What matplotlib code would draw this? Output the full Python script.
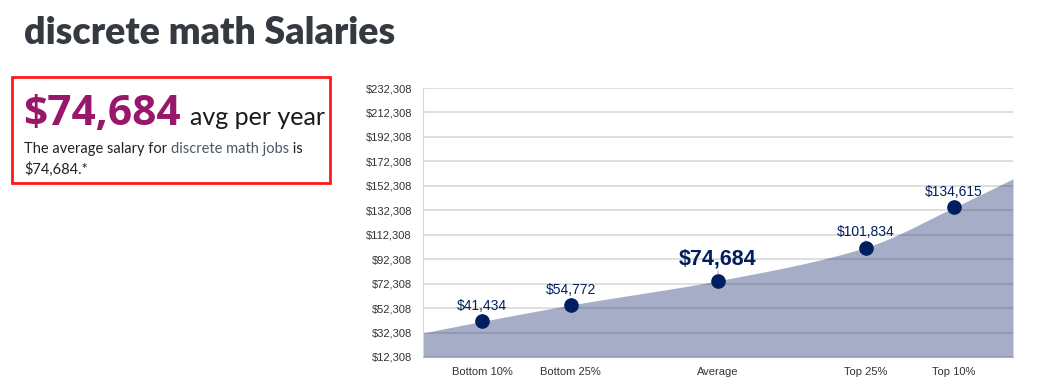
import matplotlib
matplotlib.use("Agg")
import matplotlib.pyplot as plt
import numpy as np
from matplotlib.patches import Rectangle

# =========================
# DATA
# =========================
labels = ["Bottom 10%", "Bottom 25%", "Average", "Top 25%", "Top 10%"]
percentiles = [10, 25, 50, 75, 90]
salaries = [41434, 54772, 74684, 101834, 134615]
# area edges (x = 0 and x = 100)
edge_values = [32000, 158000]
yticks = list(range(12308, 232309, 20000))

avg_salary = 74684

NAVY = "#001f5f"
FILL = "#001761"
GRID = "#d9d9d9"
TEXT = "#333333"
LEFT_FONT = "Lato"

W, H = 1051, 392


def px(x, y):
    return x / W, 1 - y / H


def monotone_curve(x, y, n=400):
    # Fritsch-Carlson monotone cubic, used only to draw the smooth edge
    x = np.asarray(x, float)
    y = np.asarray(y, float)
    d = np.diff(y) / np.diff(x)
    m = np.zeros_like(y)
    m[0], m[-1] = d[0], d[-1]
    for i in range(1, len(x) - 1):
        if d[i - 1] * d[i] <= 0:
            m[i] = 0
        else:
            w1 = 2 * (x[i + 1] - x[i]) + (x[i] - x[i - 1])
            w2 = (x[i + 1] - x[i]) + 2 * (x[i] - x[i - 1])
            m[i] = (w1 + w2) / (w1 / d[i - 1] + w2 / d[i])
    xs = np.linspace(x[0], x[-1], n)
    idx = np.clip(np.searchsorted(x, xs) - 1, 0, len(x) - 2)
    h = x[idx + 1] - x[idx]
    t = (xs - x[idx]) / h
    h00 = 2 * t**3 - 3 * t**2 + 1
    h10 = t**3 - 2 * t**2 + t
    h01 = -2 * t**3 + 3 * t**2
    h11 = t**3 - t**2
    ys = h00 * y[idx] + h10 * h * m[idx] + h01 * y[idx + 1] + h11 * h * m[idx + 1]
    return xs, ys


fig = plt.figure(figsize=(W / 100, H / 100), dpi=100)

# =========================
# LEFT PANEL
# =========================
fig.text(*px(24, 44), "discrete math Salaries", fontsize=27, fontweight="heavy",
         color="#343a40", family=LEFT_FONT, va="baseline", ha="left")

fig.patches.append(Rectangle(px(12, 183), 318 / W, 106 / H, transform=fig.transFigure,
                             fill=False, edgecolor="#ff1a1a", linewidth=2))

fig.text(*px(23, 125), f"${avg_salary:,}", fontsize=30.5, fontweight="bold",
         color="#98176a", family="Open Sans", va="baseline", ha="left")
fig.text(*px(190, 125), "avg per year", fontsize=18, color="#1a1a1a",
         family=LEFT_FONT, va="baseline", ha="left")

t1 = fig.text(*px(24, 153), "The average salary for ", fontsize=10.5, color="#222222",
              family=LEFT_FONT, va="baseline", ha="left")
fig.canvas.draw()
bb = t1.get_window_extent()
t2 = fig.text(bb.x1 / W, 1 - 153 / H, "discrete math jobs", fontsize=10.5, color="#4c5866",
              family=LEFT_FONT, va="baseline", ha="left")
fig.canvas.draw()
bb2 = t2.get_window_extent()
fig.text(bb2.x1 / W, 1 - 153 / H, " is", fontsize=10.5, color="#222222",
         family=LEFT_FONT, va="baseline", ha="left")
fig.text(*px(24, 174), f"${avg_salary:,}.*", fontsize=10.5, color="#222222",
         family=LEFT_FONT, va="baseline", ha="left")

# =========================
# CHART
# =========================
ax = fig.add_axes([423 / W, 35 / H, 590 / W, 269 / H])

ax.set_xlim(0, 100)
ax.set_ylim(yticks[0], yticks[-1])
ax.set_yticks(yticks)
ax.set_yticklabels([f"${v:,}" for v in yticks])
ax.yaxis.grid(True, color=GRID, linewidth=1.2, zorder=0)
ax.set_axisbelow(True)

ax.set_xticks(percentiles)
ax.set_xticklabels(labels)
ax.tick_params(axis="both", length=0, labelsize=8, labelcolor=TEXT,
               labelfontfamily="Liberation Sans")
ax.tick_params(axis="y", pad=8)
ax.tick_params(axis="x", pad=7)

for s in ["top", "right"]:
    ax.spines[s].set_visible(False)
ax.spines["left"].set_color(GRID)
ax.spines["bottom"].set_color("#b0b4c4")

xs_all = [0] + percentiles + [100]
ys_all = [edge_values[0]] + salaries + [edge_values[1]]
cx, cy = monotone_curve(xs_all, ys_all)
ax.fill_between(cx, yticks[0], cy, color=FILL, alpha=0.35, linewidth=0, zorder=2)

ax.plot(percentiles, salaries, "o", color=NAVY, markersize=9.5, zorder=4)

for lab, p, v in zip(labels, percentiles, salaries):
    big = lab == "Average"
    off = 8 if big else 6
    ax.annotate("", xy=(p, v), xytext=(0, off + 1), textcoords="offset points",
                arrowprops=dict(arrowstyle="-", color="#b0b0b0", lw=0.8), zorder=3)
    ax.annotate(f"${v:,}", xy=(p, v), xytext=(0, off),
                textcoords="offset points", ha="center", va="bottom",
                fontsize=15.5 if big else 10, fontweight="bold" if big else "normal",
                color=NAVY, family="Liberation Sans", zorder=5)

fig.savefig("out.png", dpi=100)
